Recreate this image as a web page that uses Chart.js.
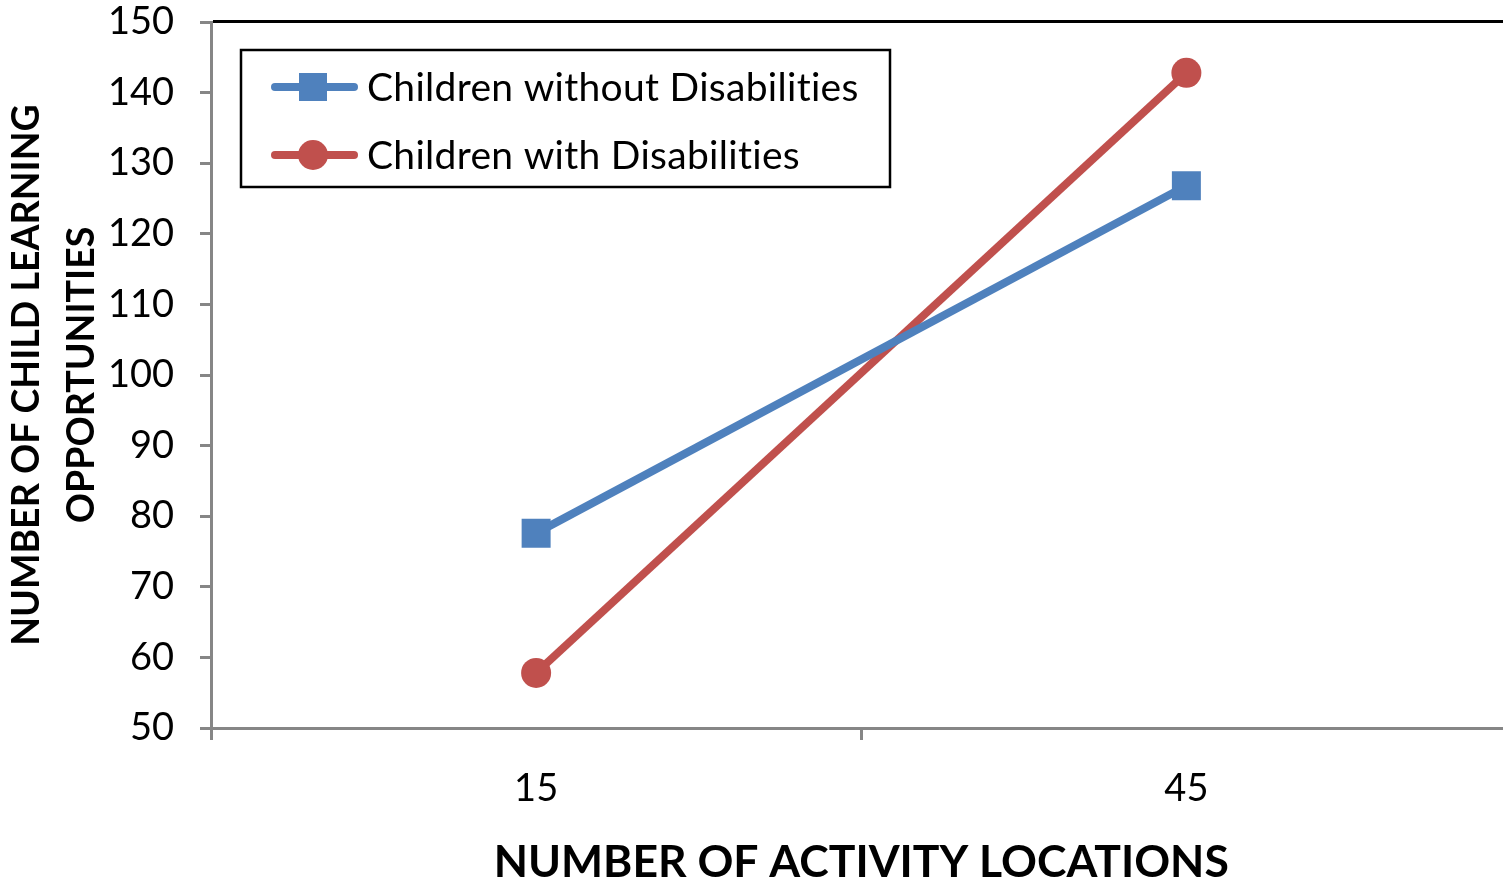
<!DOCTYPE html>
<html>
<head>
<meta charset="utf-8">
<script src="https://cdn.jsdelivr.net/npm/chart.js@4/dist/chart.umd.min.js"></script>
<style>
  html, body { margin: 0; padding: 0; background: #fff; overflow: hidden; }
  #wrap { width: 1532px; height: 885px; position: relative; }
</style>
</head>
<body>
<div id="wrap"><canvas id="c" width="1532" height="885"></canvas></div>
<script>
const categories = ['15', '45'];
const seriesNames = ['Children without Disabilities', 'Children with Disabilities'];
const withoutDisabilities = [77.6, 126.8];
const withDisabilities = [57.8, 142.8];
const yTicks = [50, 60, 70, 80, 90, 100, 110, 120, 130, 140, 150];
const xTitle = 'NUMBER OF ACTIVITY LOCATIONS';
const yTitle = ['NUMBER OF CHILD LEARNING', 'OPPORTUNITIES'];

const BLUE = '#4F81BD';
const RED = '#C0504D';
const AXIS = '#868686';
const FONT = 'Lato';

const frame = {
  id: 'frame',
  afterDraw(chart) {
    const ctx = chart.ctx;
    const a = chart.chartArea;
    ctx.save();
    ctx.strokeStyle = '#000';
    ctx.lineWidth = 3;
    ctx.beginPath();
    ctx.moveTo(a.left + 2, a.top - 0.5);
    ctx.lineTo(a.right, a.top - 0.5);
    ctx.lineTo(a.right, a.bottom);
    ctx.stroke();
    const bx = 241, by = 50, bw = 649, bh = 137;
    ctx.lineWidth = 2.5;
    ctx.fillStyle = '#fff';
    ctx.fillRect(bx, by, bw, bh);
    ctx.strokeRect(bx, by, bw, bh);
    const rows = [87, 155];
    chart.data.datasets.forEach((ds, i) => {
      const y = rows[i];
      ctx.strokeStyle = ds.borderColor;
      ctx.lineWidth = 8;
      ctx.lineCap = 'round';
      ctx.beginPath();
      ctx.moveTo(275, y);
      ctx.lineTo(354, y);
      ctx.stroke();
      ctx.fillStyle = ds.borderColor;
      if (ds.pointStyle === 'rect') {
        ctx.fillRect(313 - 14, y - 14, 28, 28);
      } else {
        ctx.beginPath();
        ctx.arc(313, y, 15, 0, Math.PI * 2);
        ctx.fill();
      }
      ctx.fillStyle = '#000';
      ctx.font = '39px ' + FONT;
      ctx.textBaseline = 'middle';
      ctx.textAlign = 'left';
      if ('letterSpacing' in ctx) ctx.letterSpacing = '0.3px';
      ctx.fillText(ds.label, 367, y + 1);
    });
    ctx.restore();
  }
};

new Chart(document.getElementById('c'), {
  type: 'line',
  data: {
    labels: categories,
    datasets: [
      {
        label: seriesNames[0],
        data: withoutDisabilities,
        borderColor: BLUE,
        backgroundColor: BLUE,
        borderWidth: 8,
        pointStyle: 'rect',
        pointRadius: 20.5,
        pointBorderWidth: 0,
        pointBackgroundColor: BLUE,
        tension: 0
      },
      {
        label: seriesNames[1],
        data: withDisabilities,
        borderColor: RED,
        backgroundColor: RED,
        borderWidth: 8,
        pointStyle: 'circle',
        pointRadius: 15,
        pointBorderWidth: 0,
        pointBackgroundColor: RED,
        tension: 0
      }
    ]
  },
  options: {
    responsive: false,
    animation: false,
    devicePixelRatio: 1,
    layout: { padding: { top: 22, right: 0, left: 0, bottom: 0 } },
    plugins: { legend: { display: false }, tooltip: { enabled: false } },
    scales: {
      x: {
        type: 'category',
        offset: true,
        grid: { display: true, offset: true, drawOnChartArea: false, drawTicks: true, tickLength: 12, color: AXIS, lineWidth: 3 },
        border: { display: true, color: AXIS, width: 3 },
        ticks: { color: '#000', font: { family: FONT, size: 38 }, padding: 26, maxRotation: 0 },
        title: { display: true, text: xTitle, color: '#000', font: { family: FONT, size: 44.5, weight: 'bold', lineHeight: 1 }, padding: { top: 0, bottom: 0 } },
        afterFit(s) { s.height = 885 - 728; s.paddingLeft = 0; s.paddingRight = 0; }
      },
      y: {
        min: 50, max: 150,
        afterBuildTicks(s) { s.ticks = yTicks.map(v => ({ value: v })); },
        grid: { display: true, drawOnChartArea: false, drawTicks: true, tickLength: 11, color: AXIS, lineWidth: 3 },
        border: { display: true, color: AXIS, width: 3 },
        ticks: { color: '#000', font: { family: FONT, size: 38 }, padding: 26 },
        title: { display: true, text: yTitle, color: '#000', font: { family: FONT, size: 37.5, weight: 'bold', lineHeight: 1.45 }, padding: { top: 0, bottom: 0 } },
        afterFit(s) { s.width = 211; s.paddingTop = 0; s.paddingBottom = 0; }
      }
    }
  },
  plugins: [frame]
});
</script>
</body>
</html>
